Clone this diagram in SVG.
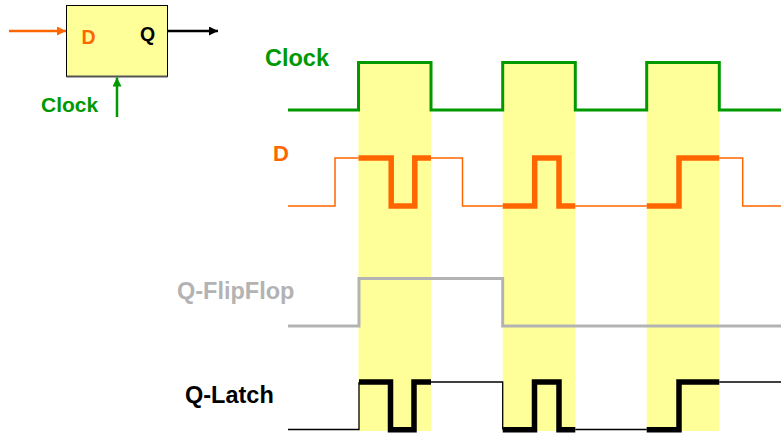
<svg xmlns="http://www.w3.org/2000/svg" width="781" height="436" viewBox="0 0 781 436">
  <defs>
    <style>
      text { font-family: "Liberation Sans", Arial, sans-serif; font-weight: bold; }
      .wave { fill: none; stroke-linejoin: miter; stroke-linecap: butt; }
      .band { fill: #FFFF99; }
      .clk { stroke: #009900; stroke-width: 3; }
      .dthin { stroke: #FF6600; stroke-width: 1.5; }
      .dthick { stroke: #FF6600; stroke-width: 5.5; }
      .qff { stroke: #B3B3B3; stroke-width: 3; }
      .qthin { stroke: #000000; stroke-width: 1.3; }
      .qthick { stroke: #000000; stroke-width: 5.5; }
    </style>
    <marker id="arrOrange" markerUnits="userSpaceOnUse" markerWidth="10" markerHeight="9" refX="9" refY="4.5" orient="auto">
      <path d="M0,0 L9,4.5 L0,9 Z" fill="#FF6600"/>
    </marker>
    <marker id="arrBlack" markerUnits="userSpaceOnUse" markerWidth="10" markerHeight="9" refX="9" refY="4.5" orient="auto">
      <path d="M0,0 L9,4.5 L0,9 Z" fill="#000000"/>
    </marker>
    <marker id="arrGreen" markerUnits="userSpaceOnUse" markerWidth="10" markerHeight="9" refX="9" refY="4.5" orient="auto">
      <path d="M0,0 L9,4.5 L0,9 Z" fill="#009900"/>
    </marker>
  </defs>

  <!-- Flip-flop block -->
  <g id="ff-block">
    <rect x="66.5" y="5.5" width="101" height="71" fill="#FFFF99" stroke="#000000" stroke-width="1"/>
    <line x1="66.5" y1="76.5" x2="167.5" y2="76.5" stroke="#555555" stroke-width="2"/>
    <text x="81.5" y="44" font-size="19.5" fill="#FF6600">D</text>
    <text x="140" y="41" font-size="19.5" fill="#000000">Q</text>
  </g>
  <g id="clock-input-label">
    <text x="41" y="111.5" font-size="21" fill="#009900">Clock</text>
  </g>

  <g id="connectors">
    <line x1="9" y1="31" x2="66" y2="31" stroke="#FF6600" stroke-width="2.5" marker-end="url(#arrOrange)"/>
    <line x1="168" y1="31" x2="218" y2="31" stroke="#000000" stroke-width="2.5" marker-end="url(#arrBlack)"/>
    <line x1="117" y1="117" x2="117" y2="77.5" stroke="#009900" stroke-width="2.5" marker-end="url(#arrGreen)"/>
  </g>

  <!-- Clock-high bands -->
  <g id="bands">
    <rect class="band" x="358.5" y="62" width="72.5" height="369"/>
    <rect class="band" x="502.7" y="62" width="72.6" height="369"/>
    <rect class="band" x="646.7" y="62" width="72.6" height="369"/>
  </g>

  <g id="signal-clock">
    <text x="265" y="66" font-size="23.5" fill="#009900">Clock</text>
    <path class="wave clk" d="M288,110 H358.5 V62.5 H431 V110 H502.7 V62.5 H575.3 V110 H646.7 V62.5 H719.3 V110 H781"/>
  </g>

  <g id="signal-d">
    <text x="273" y="161" font-size="22" fill="#FF6600">D</text>
    <path class="wave dthin" d="M288,206 H335 V158 H358.5"/>
    <path class="wave dthin" d="M431,158 H462.5 V206 H502.7"/>
    <path class="wave dthin" d="M575.3,206 H646.7"/>
    <path class="wave dthin" d="M719.3,158 H742.7 V206 H781"/>
    <path class="wave dthick" d="M358.5,158 H391.2 V206 H414.8 V158 H431"/>
    <path class="wave dthick" d="M502.7,206 H534.7 V158 H559 V206 H575.3"/>
    <path class="wave dthick" d="M646.7,206 H679 V158 H719.3"/>
  </g>

  <g id="signal-qff">
    <text x="177" y="299" font-size="23.5" fill="#B3B3B3">Q-FlipFlop</text>
    <path class="wave qff" d="M288,326 H359 V278.5 H502.7 V326 H781"/>
  </g>

  <g id="signal-qlatch">
    <text x="185" y="402.5" font-size="23.5" fill="#000000">Q-Latch</text>
    <path class="wave qthin" d="M288,429.5 H359 V382"/>
    <path class="wave qthin" d="M431,382 H502.7 V429.5"/>
    <path class="wave qthin" d="M575.3,429.5 H646.7"/>
    <path class="wave qthin" d="M719.3,382 H781"/>
    <path class="wave qthick" d="M359,382 H390.5 V429.7 H414 V382 H431"/>
    <path class="wave qthick" d="M502.7,429.7 H534.5 V382 H559 V429.7 H575.3"/>
    <path class="wave qthick" d="M646.7,429.7 H679 V382 H719.3"/>
  </g>
</svg>
